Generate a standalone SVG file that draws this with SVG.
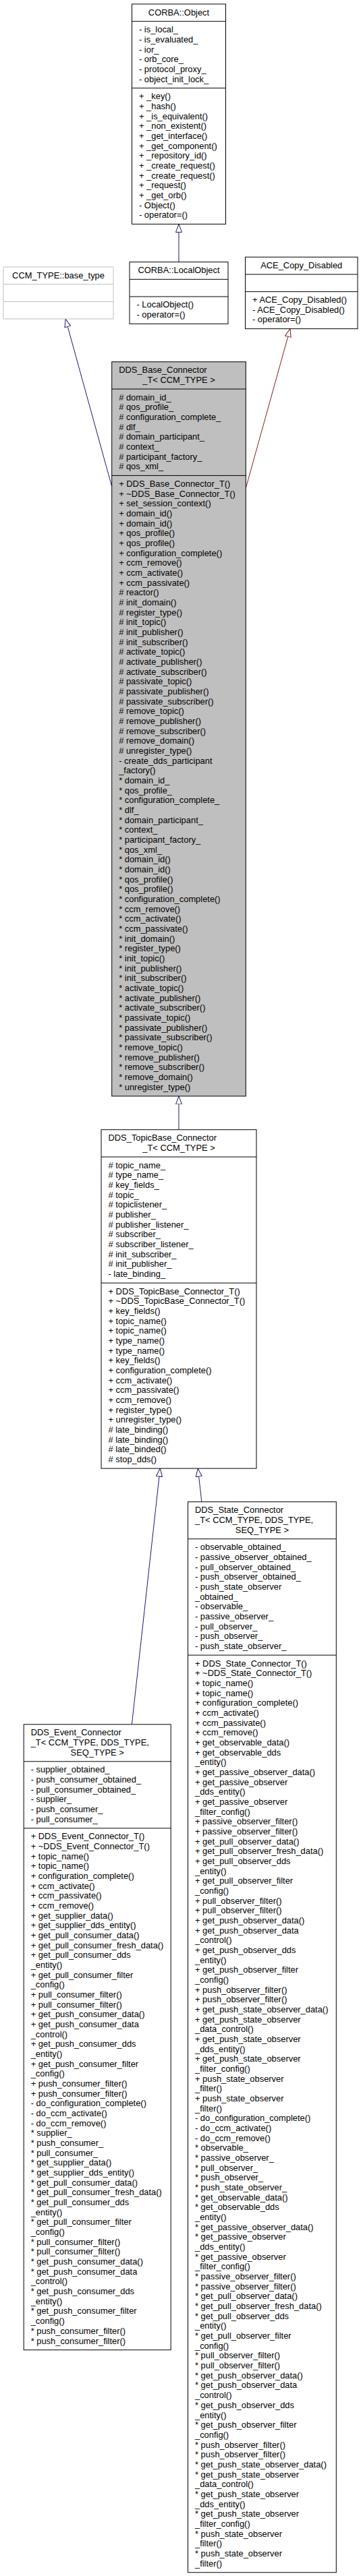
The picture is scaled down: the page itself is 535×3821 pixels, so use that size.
<svg xmlns="http://www.w3.org/2000/svg" width="535" height="3821" viewBox="0 0 535 3821">
<style>
.t{font-family:"Liberation Sans",Arial,Helvetica,sans-serif;font-size:12.9px;fill:#000}
.m{text-anchor:middle}
.box{fill:#fff;stroke:#000;stroke-width:1}
.cur{fill:#bfbfbf;stroke:#000;stroke-width:1}
.ext{fill:#fff;stroke:#bfbfbf;stroke-width:1}
.sep{stroke:#000;stroke-width:1}
.sepx{stroke:#bfbfbf;stroke-width:1}
.e{fill:none;stroke:#191970;stroke-width:1;marker-end:url(#ab)}
.er{fill:none;stroke:#8b1a1a;stroke-width:1;marker-end:url(#ar)}
</style>
<defs>
<marker id="ab" viewBox="0 0 13 10" refX="12.5" refY="5" markerWidth="13" markerHeight="10" markerUnits="userSpaceOnUse" orient="auto"><path d="M0.5,0.5 L12.5,5 L0.5,9.5 Z" fill="#fff" stroke="#191970" stroke-width="1"/></marker>
<marker id="ar" viewBox="0 0 13 10" refX="12.5" refY="5" markerWidth="13" markerHeight="10" markerUnits="userSpaceOnUse" orient="auto"><path d="M0.5,0.5 L12.5,5 L0.5,9.5 Z" fill="#fff" stroke="#8b1a1a" stroke-width="1"/></marker>
</defs>
<rect x="0" y="0" width="535" height="3821" fill="#fff"/>

<g id="connectors">
<path class="e" d="M265,388.65 L265,332.4"/>
<path class="e" d="M165.7,721.5 L97.1,473"/>
<path class="er" d="M364.3,724 L430,487.65"/>
<path class="e" d="M265,1675.7 L265,1625.94"/>
<path class="e" d="M195.4,2557.8 L237.3,2178.14"/>
<path class="e" d="M298.9,2227.7 L293.3,2178.14"/>
</g>

<g id="corba_object">
<rect class="box" x="195.5" y="6" width="139" height="326.4"/>
<line class="sep" x1="195.5" y1="31.67" x2="334.5" y2="31.67"/>
<line class="sep" x1="195.5" y1="130.69" x2="334.5" y2="130.69"/>
<text class="t m" x="265" y="22.5">CORBA::Object</text>
<text class="t" x="206" y="48.17"><tspan x="206">- is_local_</tspan><tspan x="206" dy="14.67">- is_evaluated_</tspan><tspan x="206" dy="14.67">- ior_</tspan><tspan x="206" dy="14.67">- orb_core_</tspan><tspan x="206" dy="14.67">- protocol_proxy_</tspan><tspan x="206" dy="14.67">- object_init_lock_</tspan></text>
<text class="t" x="206" y="147.19"><tspan x="206">+ _key()</tspan><tspan x="206" dy="14.67">+ _hash()</tspan><tspan x="206" dy="14.67">+ _is_equivalent()</tspan><tspan x="206" dy="14.67">+ _non_existent()</tspan><tspan x="206" dy="14.67">+ _get_interface()</tspan><tspan x="206" dy="14.67">+ _get_component()</tspan><tspan x="206" dy="14.67">+ _repository_id()</tspan><tspan x="206" dy="14.67">+ _create_request()</tspan><tspan x="206" dy="14.67">+ _create_request()</tspan><tspan x="206" dy="14.67">+ _request()</tspan><tspan x="206" dy="14.67">+ _get_orb()</tspan><tspan x="206" dy="14.67">- Object()</tspan><tspan x="206" dy="14.67">- operator=()</tspan></text>
</g>

<g id="ccm_base_type">
<rect class="ext" x="5" y="396" width="163" height="77"/>
<line class="sepx" x1="5" y1="421.67" x2="168" y2="421.67"/>
<line class="sepx" x1="5" y1="447.34" x2="168" y2="447.34"/>
<text class="t m" x="86.5" y="412.5">CCM_TYPE::base_type</text>
</g>

<g id="corba_localobject">
<rect class="box" x="192" y="388.65" width="146" height="91.68"/>
<line class="sep" x1="192" y1="414.32" x2="338" y2="414.32"/>
<line class="sep" x1="192" y1="439.99" x2="338" y2="439.99"/>
<text class="t m" x="265" y="405.15">CORBA::LocalObject</text>
<text class="t" x="202.5" y="456.49"><tspan x="202.5">- LocalObject()</tspan><tspan x="202.5" dy="14.67">- operator=()</tspan></text>
</g>

<g id="ace_copy_disabled">
<rect class="box" x="363.5" y="381.3" width="166.5" height="106.35"/>
<line class="sep" x1="363.5" y1="406.97" x2="530" y2="406.97"/>
<line class="sep" x1="363.5" y1="432.64" x2="530" y2="432.64"/>
<text class="t m" x="446.75" y="397.8">ACE_Copy_Disabled</text>
<text class="t" x="374" y="449.14"><tspan x="374">+ ACE_Copy_Disabled()</tspan><tspan x="374" dy="14.67">- ACE_Copy_Disabled()</tspan><tspan x="374" dy="14.67">- operator=()</tspan></text>
</g>

<g id="dds_base_connector">
<rect class="cur" x="165.7" y="536.7" width="198.6" height="1089.24"/>
<line class="sep" x1="165.7" y1="577.04" x2="364.3" y2="577.04"/>
<line class="sep" x1="165.7" y1="705.4" x2="364.3" y2="705.4"/>
<text class="t" x="176.2" y="553.2">DDS_Base_Connector</text>
<text class="t m" x="265" y="567.87">_T&lt; CCM_TYPE &gt;</text>
<text class="t" x="176.2" y="593.54"><tspan x="176.2"># domain_id_</tspan><tspan x="176.2" dy="14.67"># qos_profile_</tspan><tspan x="176.2" dy="14.67"># configuration_complete_</tspan><tspan x="176.2" dy="14.67"># dlf_</tspan><tspan x="176.2" dy="14.67"># domain_participant_</tspan><tspan x="176.2" dy="14.67"># context_</tspan><tspan x="176.2" dy="14.67"># participant_factory_</tspan><tspan x="176.2" dy="14.67"># qos_xml_</tspan></text>
<text class="t" x="176.2" y="721.9"><tspan x="176.2">+ DDS_Base_Connector_T()</tspan><tspan x="176.2" dy="14.67">+ ~DDS_Base_Connector_T()</tspan><tspan x="176.2" dy="14.67">+ set_session_context()</tspan><tspan x="176.2" dy="14.67">+ domain_id()</tspan><tspan x="176.2" dy="14.67">+ domain_id()</tspan><tspan x="176.2" dy="14.67">+ qos_profile()</tspan><tspan x="176.2" dy="14.67">+ qos_profile()</tspan><tspan x="176.2" dy="14.67">+ configuration_complete()</tspan><tspan x="176.2" dy="14.67">+ ccm_remove()</tspan><tspan x="176.2" dy="14.67">+ ccm_activate()</tspan><tspan x="176.2" dy="14.67">+ ccm_passivate()</tspan><tspan x="176.2" dy="14.67"># reactor()</tspan><tspan x="176.2" dy="14.67"># init_domain()</tspan><tspan x="176.2" dy="14.67"># register_type()</tspan><tspan x="176.2" dy="14.67"># init_topic()</tspan><tspan x="176.2" dy="14.67"># init_publisher()</tspan><tspan x="176.2" dy="14.67"># init_subscriber()</tspan><tspan x="176.2" dy="14.67"># activate_topic()</tspan><tspan x="176.2" dy="14.67"># activate_publisher()</tspan><tspan x="176.2" dy="14.67"># activate_subscriber()</tspan><tspan x="176.2" dy="14.67"># passivate_topic()</tspan><tspan x="176.2" dy="14.67"># passivate_publisher()</tspan><tspan x="176.2" dy="14.67"># passivate_subscriber()</tspan><tspan x="176.2" dy="14.67"># remove_topic()</tspan><tspan x="176.2" dy="14.67"># remove_publisher()</tspan><tspan x="176.2" dy="14.67"># remove_subscriber()</tspan><tspan x="176.2" dy="14.67"># remove_domain()</tspan><tspan x="176.2" dy="14.67"># unregister_type()</tspan><tspan x="176.2" dy="14.67">- create_dds_participant</tspan><tspan x="176.2" dy="14.67">_factory()</tspan><tspan x="176.2" dy="14.67">* domain_id_</tspan><tspan x="176.2" dy="14.67">* qos_profile_</tspan><tspan x="176.2" dy="14.67">* configuration_complete_</tspan><tspan x="176.2" dy="14.67">* dlf_</tspan><tspan x="176.2" dy="14.67">* domain_participant_</tspan><tspan x="176.2" dy="14.67">* context_</tspan><tspan x="176.2" dy="14.67">* participant_factory_</tspan><tspan x="176.2" dy="14.67">* qos_xml_</tspan><tspan x="176.2" dy="14.67">* domain_id()</tspan><tspan x="176.2" dy="14.67">* domain_id()</tspan><tspan x="176.2" dy="14.67">* qos_profile()</tspan><tspan x="176.2" dy="14.67">* qos_profile()</tspan><tspan x="176.2" dy="14.67">* configuration_complete()</tspan><tspan x="176.2" dy="14.67">* ccm_remove()</tspan><tspan x="176.2" dy="14.67">* ccm_activate()</tspan><tspan x="176.2" dy="14.67">* ccm_passivate()</tspan><tspan x="176.2" dy="14.67">* init_domain()</tspan><tspan x="176.2" dy="14.67">* register_type()</tspan><tspan x="176.2" dy="14.67">* init_topic()</tspan><tspan x="176.2" dy="14.67">* init_publisher()</tspan><tspan x="176.2" dy="14.67">* init_subscriber()</tspan><tspan x="176.2" dy="14.67">* activate_topic()</tspan><tspan x="176.2" dy="14.67">* activate_publisher()</tspan><tspan x="176.2" dy="14.67">* activate_subscriber()</tspan><tspan x="176.2" dy="14.67">* passivate_topic()</tspan><tspan x="176.2" dy="14.67">* passivate_publisher()</tspan><tspan x="176.2" dy="14.67">* passivate_subscriber()</tspan><tspan x="176.2" dy="14.67">* remove_topic()</tspan><tspan x="176.2" dy="14.67">* remove_publisher()</tspan><tspan x="176.2" dy="14.67">* remove_subscriber()</tspan><tspan x="176.2" dy="14.67">* remove_domain()</tspan><tspan x="176.2" dy="14.67">* unregister_type()</tspan></text>
</g>

<g id="dds_topicbase_connector">
<rect class="box" x="150" y="1675.7" width="230" height="502.44"/>
<line class="sep" x1="150" y1="1716.04" x2="380" y2="1716.04"/>
<line class="sep" x1="150" y1="1903.08" x2="380" y2="1903.08"/>
<text class="t" x="160.5" y="1692.2">DDS_TopicBase_Connector</text>
<text class="t m" x="265" y="1706.87">_T&lt; CCM_TYPE &gt;</text>
<text class="t" x="160.5" y="1732.54"><tspan x="160.5"># topic_name_</tspan><tspan x="160.5" dy="14.67"># type_name_</tspan><tspan x="160.5" dy="14.67"># key_fields_</tspan><tspan x="160.5" dy="14.67"># topic_</tspan><tspan x="160.5" dy="14.67"># topiclistener_</tspan><tspan x="160.5" dy="14.67"># publisher_</tspan><tspan x="160.5" dy="14.67"># publisher_listener_</tspan><tspan x="160.5" dy="14.67"># subscriber_</tspan><tspan x="160.5" dy="14.67"># subscriber_listener_</tspan><tspan x="160.5" dy="14.67"># init_subscriber_</tspan><tspan x="160.5" dy="14.67"># init_publisher_</tspan><tspan x="160.5" dy="14.67">- late_binding_</tspan></text>
<text class="t" x="160.5" y="1919.58"><tspan x="160.5">+ DDS_TopicBase_Connector_T()</tspan><tspan x="160.5" dy="14.67">+ ~DDS_TopicBase_Connector_T()</tspan><tspan x="160.5" dy="14.67">+ key_fields()</tspan><tspan x="160.5" dy="14.67">+ topic_name()</tspan><tspan x="160.5" dy="14.67">+ topic_name()</tspan><tspan x="160.5" dy="14.67">+ type_name()</tspan><tspan x="160.5" dy="14.67">+ type_name()</tspan><tspan x="160.5" dy="14.67">+ key_fields()</tspan><tspan x="160.5" dy="14.67">+ configuration_complete()</tspan><tspan x="160.5" dy="14.67">+ ccm_activate()</tspan><tspan x="160.5" dy="14.67">+ ccm_passivate()</tspan><tspan x="160.5" dy="14.67">+ ccm_remove()</tspan><tspan x="160.5" dy="14.67">+ register_type()</tspan><tspan x="160.5" dy="14.67">+ unregister_type()</tspan><tspan x="160.5" dy="14.67"># late_binding()</tspan><tspan x="160.5" dy="14.67"># late_binding()</tspan><tspan x="160.5" dy="14.67"># late_binded()</tspan><tspan x="160.5" dy="14.67"># stop_dds()</tspan></text>
</g>

<g id="dds_state_connector">
<rect class="box" x="278.5" y="2227.7" width="219.8" height="1588.02"/>
<line class="sep" x1="278.5" y1="2282.71" x2="498.3" y2="2282.71"/>
<line class="sep" x1="278.5" y1="2455.08" x2="498.3" y2="2455.08"/>
<text class="t" x="289" y="2244.2"><tspan x="289">DDS_State_Connector</tspan><tspan x="289" dy="14.67">_T&lt; CCM_TYPE, DDS_TYPE,</tspan></text>
<text class="t m" x="388.4" y="2273.54">SEQ_TYPE &gt;</text>
<text class="t" x="289" y="2299.21"><tspan x="289">- observable_obtained_</tspan><tspan x="289" dy="14.67">- passive_observer_obtained_</tspan><tspan x="289" dy="14.67">- pull_observer_obtained_</tspan><tspan x="289" dy="14.67">- push_observer_obtained_</tspan><tspan x="289" dy="14.67">- push_state_observer</tspan><tspan x="289" dy="14.67">_obtained_</tspan><tspan x="289" dy="14.67">- observable_</tspan><tspan x="289" dy="14.67">- passive_observer_</tspan><tspan x="289" dy="14.67">- pull_observer_</tspan><tspan x="289" dy="14.67">- push_observer_</tspan><tspan x="289" dy="14.67">- push_state_observer_</tspan></text>
<text class="t" x="289" y="2471.58"><tspan x="289">+ DDS_State_Connector_T()</tspan><tspan x="289" dy="14.67">+ ~DDS_State_Connector_T()</tspan><tspan x="289" dy="14.67">+ topic_name()</tspan><tspan x="289" dy="14.67">+ topic_name()</tspan><tspan x="289" dy="14.67">+ configuration_complete()</tspan><tspan x="289" dy="14.67">+ ccm_activate()</tspan><tspan x="289" dy="14.67">+ ccm_passivate()</tspan><tspan x="289" dy="14.67">+ ccm_remove()</tspan><tspan x="289" dy="14.67">+ get_observable_data()</tspan><tspan x="289" dy="14.67">+ get_observable_dds</tspan><tspan x="289" dy="14.67">_entity()</tspan><tspan x="289" dy="14.67">+ get_passive_observer_data()</tspan><tspan x="289" dy="14.67">+ get_passive_observer</tspan><tspan x="289" dy="14.67">_dds_entity()</tspan><tspan x="289" dy="14.67">+ get_passive_observer</tspan><tspan x="289" dy="14.67">_filter_config()</tspan><tspan x="289" dy="14.67">+ passive_observer_filter()</tspan><tspan x="289" dy="14.67">+ passive_observer_filter()</tspan><tspan x="289" dy="14.67">+ get_pull_observer_data()</tspan><tspan x="289" dy="14.67">+ get_pull_observer_fresh_data()</tspan><tspan x="289" dy="14.67">+ get_pull_observer_dds</tspan><tspan x="289" dy="14.67">_entity()</tspan><tspan x="289" dy="14.67">+ get_pull_observer_filter</tspan><tspan x="289" dy="14.67">_config()</tspan><tspan x="289" dy="14.67">+ pull_observer_filter()</tspan><tspan x="289" dy="14.67">+ pull_observer_filter()</tspan><tspan x="289" dy="14.67">+ get_push_observer_data()</tspan><tspan x="289" dy="14.67">+ get_push_observer_data</tspan><tspan x="289" dy="14.67">_control()</tspan><tspan x="289" dy="14.67">+ get_push_observer_dds</tspan><tspan x="289" dy="14.67">_entity()</tspan><tspan x="289" dy="14.67">+ get_push_observer_filter</tspan><tspan x="289" dy="14.67">_config()</tspan><tspan x="289" dy="14.67">+ push_observer_filter()</tspan><tspan x="289" dy="14.67">+ push_observer_filter()</tspan><tspan x="289" dy="14.67">+ get_push_state_observer_data()</tspan><tspan x="289" dy="14.67">+ get_push_state_observer</tspan><tspan x="289" dy="14.67">_data_control()</tspan><tspan x="289" dy="14.67">+ get_push_state_observer</tspan><tspan x="289" dy="14.67">_dds_entity()</tspan><tspan x="289" dy="14.67">+ get_push_state_observer</tspan><tspan x="289" dy="14.67">_filter_config()</tspan><tspan x="289" dy="14.67">+ push_state_observer</tspan><tspan x="289" dy="14.67">_filter()</tspan><tspan x="289" dy="14.67">+ push_state_observer</tspan><tspan x="289" dy="14.67">_filter()</tspan><tspan x="289" dy="14.67">- do_configuration_complete()</tspan><tspan x="289" dy="14.67">- do_ccm_activate()</tspan><tspan x="289" dy="14.67">- do_ccm_remove()</tspan><tspan x="289" dy="14.67">* observable_</tspan><tspan x="289" dy="14.67">* passive_observer_</tspan><tspan x="289" dy="14.67">* pull_observer_</tspan><tspan x="289" dy="14.67">* push_observer_</tspan><tspan x="289" dy="14.67">* push_state_observer_</tspan><tspan x="289" dy="14.67">* get_observable_data()</tspan><tspan x="289" dy="14.67">* get_observable_dds</tspan><tspan x="289" dy="14.67">_entity()</tspan><tspan x="289" dy="14.67">* get_passive_observer_data()</tspan><tspan x="289" dy="14.67">* get_passive_observer</tspan><tspan x="289" dy="14.67">_dds_entity()</tspan><tspan x="289" dy="14.67">* get_passive_observer</tspan><tspan x="289" dy="14.67">_filter_config()</tspan><tspan x="289" dy="14.67">* passive_observer_filter()</tspan><tspan x="289" dy="14.67">* passive_observer_filter()</tspan><tspan x="289" dy="14.67">* get_pull_observer_data()</tspan><tspan x="289" dy="14.67">* get_pull_observer_fresh_data()</tspan><tspan x="289" dy="14.67">* get_pull_observer_dds</tspan><tspan x="289" dy="14.67">_entity()</tspan><tspan x="289" dy="14.67">* get_pull_observer_filter</tspan><tspan x="289" dy="14.67">_config()</tspan><tspan x="289" dy="14.67">* pull_observer_filter()</tspan><tspan x="289" dy="14.67">* pull_observer_filter()</tspan><tspan x="289" dy="14.67">* get_push_observer_data()</tspan><tspan x="289" dy="14.67">* get_push_observer_data</tspan><tspan x="289" dy="14.67">_control()</tspan><tspan x="289" dy="14.67">* get_push_observer_dds</tspan><tspan x="289" dy="14.67">_entity()</tspan><tspan x="289" dy="14.67">* get_push_observer_filter</tspan><tspan x="289" dy="14.67">_config()</tspan><tspan x="289" dy="14.67">* push_observer_filter()</tspan><tspan x="289" dy="14.67">* push_observer_filter()</tspan><tspan x="289" dy="14.67">* get_push_state_observer_data()</tspan><tspan x="289" dy="14.67">* get_push_state_observer</tspan><tspan x="289" dy="14.67">_data_control()</tspan><tspan x="289" dy="14.67">* get_push_state_observer</tspan><tspan x="289" dy="14.67">_dds_entity()</tspan><tspan x="289" dy="14.67">* get_push_state_observer</tspan><tspan x="289" dy="14.67">_filter_config()</tspan><tspan x="289" dy="14.67">* push_state_observer</tspan><tspan x="289" dy="14.67">_filter()</tspan><tspan x="289" dy="14.67">* push_state_observer</tspan><tspan x="289" dy="14.67">_filter()</tspan></text>
</g>

<g id="dds_event_connector">
<rect class="box" x="35.2" y="2557.8" width="218" height="927.87"/>
<line class="sep" x1="35.2" y1="2612.81" x2="253.2" y2="2612.81"/>
<line class="sep" x1="35.2" y1="2711.83" x2="253.2" y2="2711.83"/>
<text class="t" x="45.7" y="2574.3"><tspan x="45.7">DDS_Event_Connector</tspan><tspan x="45.7" dy="14.67">_T&lt; CCM_TYPE, DDS_TYPE,</tspan></text>
<text class="t m" x="144.2" y="2603.64">SEQ_TYPE &gt;</text>
<text class="t" x="45.7" y="2629.31"><tspan x="45.7">- supplier_obtained_</tspan><tspan x="45.7" dy="14.67">- push_consumer_obtained_</tspan><tspan x="45.7" dy="14.67">- pull_consumer_obtained_</tspan><tspan x="45.7" dy="14.67">- supplier_</tspan><tspan x="45.7" dy="14.67">- push_consumer_</tspan><tspan x="45.7" dy="14.67">- pull_consumer_</tspan></text>
<text class="t" x="45.7" y="2728.33"><tspan x="45.7">+ DDS_Event_Connector_T()</tspan><tspan x="45.7" dy="14.67">+ ~DDS_Event_Connector_T()</tspan><tspan x="45.7" dy="14.67">+ topic_name()</tspan><tspan x="45.7" dy="14.67">+ topic_name()</tspan><tspan x="45.7" dy="14.67">+ configuration_complete()</tspan><tspan x="45.7" dy="14.67">+ ccm_activate()</tspan><tspan x="45.7" dy="14.67">+ ccm_passivate()</tspan><tspan x="45.7" dy="14.67">+ ccm_remove()</tspan><tspan x="45.7" dy="14.67">+ get_supplier_data()</tspan><tspan x="45.7" dy="14.67">+ get_supplier_dds_entity()</tspan><tspan x="45.7" dy="14.67">+ get_pull_consumer_data()</tspan><tspan x="45.7" dy="14.67">+ get_pull_consumer_fresh_data()</tspan><tspan x="45.7" dy="14.67">+ get_pull_consumer_dds</tspan><tspan x="45.7" dy="14.67">_entity()</tspan><tspan x="45.7" dy="14.67">+ get_pull_consumer_filter</tspan><tspan x="45.7" dy="14.67">_config()</tspan><tspan x="45.7" dy="14.67">+ pull_consumer_filter()</tspan><tspan x="45.7" dy="14.67">+ pull_consumer_filter()</tspan><tspan x="45.7" dy="14.67">+ get_push_consumer_data()</tspan><tspan x="45.7" dy="14.67">+ get_push_consumer_data</tspan><tspan x="45.7" dy="14.67">_control()</tspan><tspan x="45.7" dy="14.67">+ get_push_consumer_dds</tspan><tspan x="45.7" dy="14.67">_entity()</tspan><tspan x="45.7" dy="14.67">+ get_push_consumer_filter</tspan><tspan x="45.7" dy="14.67">_config()</tspan><tspan x="45.7" dy="14.67">+ push_consumer_filter()</tspan><tspan x="45.7" dy="14.67">+ push_consumer_filter()</tspan><tspan x="45.7" dy="14.67">- do_configuration_complete()</tspan><tspan x="45.7" dy="14.67">- do_ccm_activate()</tspan><tspan x="45.7" dy="14.67">- do_ccm_remove()</tspan><tspan x="45.7" dy="14.67">* supplier_</tspan><tspan x="45.7" dy="14.67">* push_consumer_</tspan><tspan x="45.7" dy="14.67">* pull_consumer_</tspan><tspan x="45.7" dy="14.67">* get_supplier_data()</tspan><tspan x="45.7" dy="14.67">* get_supplier_dds_entity()</tspan><tspan x="45.7" dy="14.67">* get_pull_consumer_data()</tspan><tspan x="45.7" dy="14.67">* get_pull_consumer_fresh_data()</tspan><tspan x="45.7" dy="14.67">* get_pull_consumer_dds</tspan><tspan x="45.7" dy="14.67">_entity()</tspan><tspan x="45.7" dy="14.67">* get_pull_consumer_filter</tspan><tspan x="45.7" dy="14.67">_config()</tspan><tspan x="45.7" dy="14.67">* pull_consumer_filter()</tspan><tspan x="45.7" dy="14.67">* pull_consumer_filter()</tspan><tspan x="45.7" dy="14.67">* get_push_consumer_data()</tspan><tspan x="45.7" dy="14.67">* get_push_consumer_data</tspan><tspan x="45.7" dy="14.67">_control()</tspan><tspan x="45.7" dy="14.67">* get_push_consumer_dds</tspan><tspan x="45.7" dy="14.67">_entity()</tspan><tspan x="45.7" dy="14.67">* get_push_consumer_filter</tspan><tspan x="45.7" dy="14.67">_config()</tspan><tspan x="45.7" dy="14.67">* push_consumer_filter()</tspan><tspan x="45.7" dy="14.67">* push_consumer_filter()</tspan></text>
</g>
</svg>
